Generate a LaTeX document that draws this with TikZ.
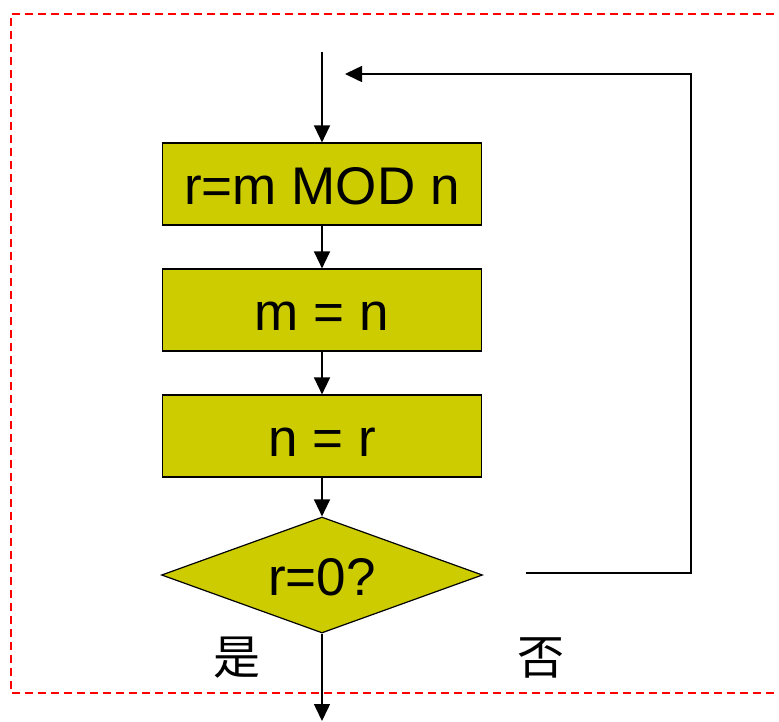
\documentclass[tikz,border=0pt]{standalone}
\usepackage{fontspec}
\setmainfont{Liberation Sans}
\newfontfamily\cjk{Noto Sans CJK SC}
\usetikzlibrary{arrows.meta,shapes.geometric}
\definecolor{boxfill}{HTML}{CCCC00}
\tikzset{
  procbox/.style={draw=black, line width=1.2pt, fill=boxfill, minimum width=319pt, minimum height=82pt, inner sep=0pt, text height=40pt, text depth=0pt, font=\fontsize{53}{58}\selectfont},
  decbox/.style={draw=black, line width=1.2pt, fill=boxfill, diamond, minimum width=321pt, minimum height=116pt, inner sep=0pt, aspect=2.77, text height=40pt, text depth=0pt, font=\fontsize{53}{58}\selectfont},
  flow/.style={line width=1.5pt, -{Triangle[length=17pt,width=16pt]}},
  frame/.style={red, line width=2pt, dash pattern=on 8pt off 5pt},
  lbl/.style={font=\cjk\fontsize{47}{50}\selectfont, inner sep=0pt}
}
\begin{document}
\begin{tikzpicture}[x=1pt,y=-1pt]
\useasboundingbox (0,0) rectangle (779,721);
\fill[white] (0,0) rectangle (779,721);
\draw[frame] (800,14) -- (11,14) -- (11,693) -- (800,693);
\coordinate (start) at (322,52);
\node[procbox] (b1) at (322,184) {r=m MOD n};
\node[procbox] (b2) at (322,310) {m = n};
\node[procbox] (b3) at (322,436) {n = r};
\node[decbox] (d) at (322,575) {r=0?};
\coordinate (loopstart) at (526,573);
\coordinate (loopc1) at (691,573);
\coordinate (loopc2) at (691,74);
\coordinate (loopend) at (345,74);
\coordinate (out) at (322,721);
\draw[flow] (start) -- (b1);
\draw[flow] (b1) -- (b2);
\draw[flow] (b2) -- (b3);
\draw[flow] (b3) -- (d);
\draw[flow] (d.south) -- (out);
\draw[flow] (loopstart) -- (loopc1) -- (loopc2) -- (loopend);
\node[lbl] (yes) at (237,658) {是};
\node[lbl] (no) at (541,658) {否};
\end{tikzpicture}
\end{document}
